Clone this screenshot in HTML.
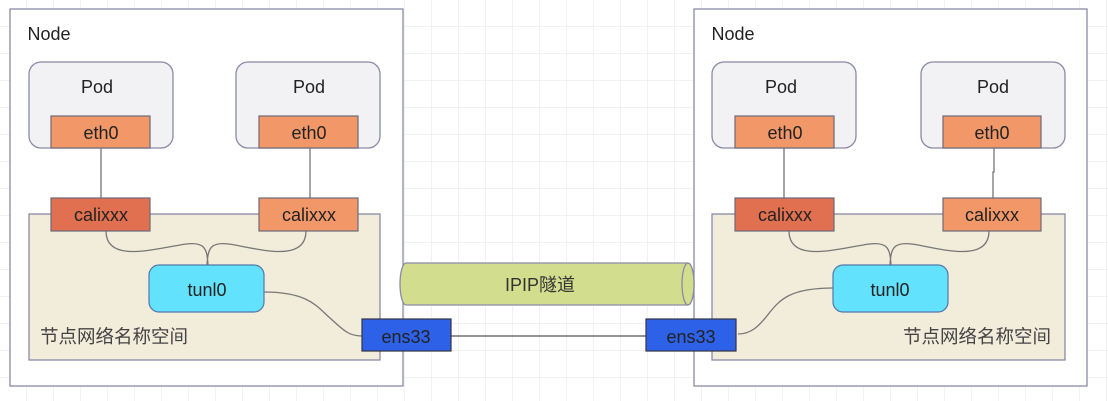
<!DOCTYPE html>
<html><head><style>
html,body{margin:0;padding:0;background:#fff;}
svg{display:block;font-family:"Liberation Sans","Noto Sans CJK SC",sans-serif;}
</style></head><body>
<svg width="1108" height="401" viewBox="0 0 1108 401" xmlns="http://www.w3.org/2000/svg">
<defs>
<pattern id="g" width="27" height="27" patternUnits="userSpaceOnUse" x="0" y="0">
<path d="M27 0V27M0 27H27" stroke="#e6e6e6" stroke-width="1" fill="none"/>
</pattern>
</defs>
<rect width="1108" height="401" fill="url(#g)"/>
<g stroke="#8a8aa8" stroke-width="1.3">
<rect x="10" y="9" width="393" height="377" fill="#fff"/>
<rect x="29" y="214" width="351" height="146" fill="#f2ecdb"/>
<rect x="29" y="62" width="144" height="86" rx="12" fill="#f2f2f4"/>
<rect x="236" y="62" width="144" height="86" rx="12" fill="#f2f2f4"/>
<rect x="694" y="9" width="393" height="377" fill="#fff"/>
<rect x="712" y="214" width="353" height="146" fill="#f2ecdb"/>
<rect x="712" y="62" width="144" height="86" rx="12" fill="#f2f2f4"/>
<rect x="921" y="62" width="144" height="86" rx="12" fill="#f2f2f4"/>
</g>
<g fill="none" stroke="#777" stroke-width="1.3">
<path d="M101 148V198M310 148V198"/>
<path d="M784 148V198M994 148V172L993 172V198"/>
<path d="M106 231C106 262 150 250 180 245C205 240 207 248 208 265M306 231C306 262 262 250 235 245C210 240 208 248 207 265"/>
<path d="M789 231C789 262 833 250 863 245C888 240 890 248 891 265M989 231C989 262 945 250 918 245C893 240 891 248 890 265"/>
<path d="M264 292C310 292 318 308 330 318C345 332 350 336 362 336"/>
<path d="M833 288C790 288 780 300 770 312C758 328 750 334 738 334"/>
<path d="M451 336H646" stroke="#555"/>
</g>
<path d="M406 263H688A6 21 0 0 1 688 305H406A6 21 0 0 1 406 263Z" fill="#d2de8e" stroke="#8a8aa8" stroke-width="1.3"/>
<ellipse cx="688" cy="284" rx="6" ry="21" fill="#d2de8e" stroke="#8a8aa8" stroke-width="1.3"/>
<g stroke="#6a6a7a" stroke-width="1.2">
<rect x="51" y="116" width="99" height="32" fill="#f29868"/>
<rect x="259" y="116" width="99" height="32" fill="#f29868"/>
<rect x="51" y="198" width="99" height="33" fill="#e07050"/>
<rect x="259" y="198" width="99" height="33" fill="#f29868"/>
<rect x="735" y="116" width="99" height="32" fill="#f29868"/>
<rect x="943" y="116" width="98" height="32" fill="#f29868"/>
<rect x="735" y="198" width="99" height="33" fill="#e07050"/>
<rect x="943" y="198" width="98" height="33" fill="#f29868"/>
</g>
<g stroke="#5577aa" stroke-width="1.2" fill="#62e2fc">
<rect x="149" y="265" width="115" height="47" rx="10"/>
<rect x="833" y="265" width="115" height="47" rx="10"/>
</g>
<g stroke="#334" stroke-width="1.2" fill="#2d62e8">
<rect x="362" y="319" width="89" height="32"/>
<rect x="646" y="319" width="90" height="32"/>
</g>
<g fill="#222" font-size="18" text-anchor="middle">
<text x="49" y="40">Node</text>
<text x="733" y="40">Node</text>
<text x="97" y="93">Pod</text><text x="309" y="93">Pod</text>
<text x="781" y="93">Pod</text><text x="993" y="93">Pod</text>
<text x="101" y="139">eth0</text><text x="309" y="139">eth0</text>
<text x="785" y="139">eth0</text><text x="992" y="139">eth0</text>
<text x="101" y="221">calixxx</text><text x="309" y="221">calixxx</text>
<text x="785" y="221">calixxx</text><text x="992" y="221">calixxx</text>
<text x="207" y="296">tunl0</text><text x="890" y="296">tunl0</text>
<text x="406" y="343">ens33</text><text x="691" y="343">ens33</text>
<text x="540" y="291" fill="#333">IPIP隧道</text>
</g>
<g fill="#444" font-size="18.5">
<text x="40" y="343">节点网络名称空间</text>
<text x="903" y="343">节点网络名称空间</text>
</g>
</svg>
</body></html>
